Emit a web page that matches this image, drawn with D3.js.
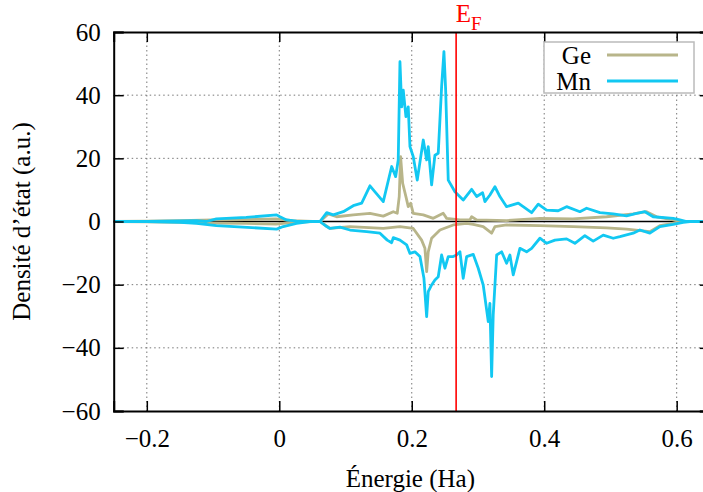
<!DOCTYPE html>
<html><head><meta charset="utf-8">
<script src="https://cdn.jsdelivr.net/npm/d3@7"></script>
<style>
html,body{margin:0;padding:0;background:#fff;overflow:hidden}
svg{display:block;font-family:"Liberation Serif","Times New Roman",serif}
</style></head><body>
<svg id="c" width="703" height="492"></svg>
<script>
// ---- data ----
const xTicks = [-0.2, 0, 0.2, 0.4, 0.6];
const xTickLabels = ["\u22120.2", "0", "0.2", "0.4", "0.6"];
const yTicks = [-60, -40, -20, 0, 20, 40, 60];
const yTickLabels = ["\u221260", "\u221240", "\u221220", "0", "20", "40", "60"];
const fermiEnergy = 0.267;
const seriesNames = ["Ge", "Mn"];

const mnUpE = [-0.25,-0.2,-0.15,-0.125,-0.11,-0.095,-0.05,-0.004,0.001,0.011,0.026,0.046,0.0614,0.0716,0.0815,0.0966,0.1117,0.1244,0.1369,0.1445,0.157,0.1697,0.1757,0.1796,0.1822,0.1848,0.1872,0.1912,0.1947,0.1973,0.2023,0.2083,0.2174,0.2225,0.2249,0.23,0.235,0.24,0.2451,0.2486,0.2512,0.2551,0.2652,0.2777,0.2904,0.298,0.307,0.3105,0.318,0.3256,0.3331,0.3432,0.3608,0.381,0.391,0.4036,0.4211,0.4338,0.4539,0.464,0.4841,0.5042,0.5244,0.5395,0.552,0.5645,0.5947,0.6048,0.615,0.65];
const mnUpV = [0,0,0.2,0.25,0,0.8,1.3,2.1,1.5,0.5,0.1,0,0,2.8,2.1,3.1,5,5.8,11.3,9.4,6.3,17.4,14.2,19.5,50.6,36.3,41.6,33.2,36.3,23.7,20.5,13.1,25.8,19.5,23.7,11.6,21,21.6,42.7,53.8,41.6,13.1,9.4,6.8,10.2,7.9,9.1,6.3,8.4,11,7.9,4.7,5.8,2.8,5.5,3.6,3.4,4.7,3.1,4.2,2.8,2.4,1.8,2.6,3.1,1.5,1,0.5,0,0];

const mnDnE = [-0.25,-0.2,-0.15,-0.125,-0.095,-0.004,0.006,0.026,0.046,0.0614,0.0716,0.0765,0.0916,0.1067,0.1319,0.152,0.163,0.1697,0.1721,0.1822,0.1923,0.1973,0.2048,0.2124,0.2184,0.2225,0.2249,0.23,0.235,0.24,0.2451,0.2501,0.2551,0.2626,0.2677,0.2728,0.2777,0.2829,0.2928,0.3004,0.3079,0.3155,0.318,0.3206,0.323,0.3282,0.3357,0.3432,0.3482,0.3532,0.3583,0.3633,0.3734,0.381,0.3935,0.4036,0.4162,0.4338,0.4463,0.4614,0.474,0.4891,0.5042,0.5143,0.5343,0.5444,0.5595,0.5746,0.5947,0.6098,0.62,0.65];
const mnDnV = [0,0,-0.3,-0.6,-1.3,-2.4,-1.6,-0.6,0,0,-1.6,-2.2,-1.8,-2.7,-3.2,-3.7,-5.9,-6.7,-5.1,-5.9,-7.4,-10.1,-9.6,-11.1,-18,-30.1,-22.2,-20.1,-18.5,-17.5,-10.6,-14.8,-11.1,-11.1,-10.6,-9.6,-18,-11.1,-10.4,-14.8,-20.1,-31.7,-25.9,-49.1,-29.6,-10.6,-9.6,-13.2,-10.6,-16.9,-12.7,-8.5,-9.6,-8.5,-5.3,-6.9,-5.9,-5.5,-6.9,-4.5,-6.2,-4.3,-5.3,-4.8,-3.7,-2.7,-3.7,-1.6,-0.9,-0.25,0,0];

const geUpE = [-0.25,-0.2,-0.15,-0.1,-0.05,-0.005,0.02,0.05,0.0614,0.074,0.0866,0.1117,0.1369,0.157,0.1721,0.1781,0.1811,0.1832,0.1863,0.1912,0.1947,0.1983,0.2023,0.2174,0.2325,0.2475,0.2527,0.2728,0.2878,0.2904,0.298,0.3432,0.3935,0.4433,0.4942,0.5343,0.5546,0.5697,0.5947,0.6048,0.65];
const geUpV = [0,0.1,0.3,0.5,0.6,0.8,0.3,0,0,2.4,1.5,2.1,2.6,1.7,3.1,2.6,7.9,20.5,12.1,7.9,4.7,5.8,2.6,2.1,1,2.6,1,0.5,0.5,1.5,0.5,0.3,1,0.8,1.5,2.4,3.1,1.5,0.5,0,0];

const geDnE = [-0.25,-0.2,-0.15,-0.1,-0.05,-0.005,0.02,0.05,0.0614,0.0765,0.1067,0.157,0.1822,0.2023,0.2149,0.2199,0.2225,0.2249,0.23,0.2426,0.2626,0.2829,0.2928,0.3079,0.3206,0.3256,0.3432,0.3935,0.4438,0.4942,0.5244,0.5595,0.5746,0.5947,0.61,0.65];
const geDnV = [0,-0.1,-0.3,-0.5,-0.6,-0.8,-0.3,0,0,-2.2,-1.6,-2.2,-1.6,-2.2,-5.9,-8.5,-15.9,-9.6,-5.3,-2.7,-1.1,-0.6,-0.9,-1.6,-3.7,-1.6,-1.1,-1.3,-1.6,-2,-2.4,-3.2,-1.3,-0.6,0,0];

// ---- chart ----
const svg = d3.select("#c");
const L = 113.7, R = 709.8, T = 32, B = 411;
const x = d3.scaleLinear().domain([-0.25, 0.65]).range([L, R]);
const y = d3.scaleLinear().domain([-60, 60]).range([B, T]);
const fs = 25;

const defs = svg.append("defs");
defs.append("clipPath").attr("id","clip").append("rect")
  .attr("x", L).attr("y", T).attr("width", R - L).attr("height", B - T);

// grid
const grid = svg.append("g").attr("stroke","#777").attr("stroke-width",1).attr("stroke-dasharray","1.5,3");
grid.selectAll(".gx").data(xTicks).join("line")
  .attr("x1", d => x(d)).attr("x2", d => x(d)).attr("y1", T).attr("y2", B);
grid.selectAll(".gy").data(yTicks.filter(d => d > -60 && d < 60)).join("line")
  .attr("y1", d => y(d)).attr("y2", d => y(d)).attr("x1", L).attr("x2", R);

// zero line
svg.append("line").attr("x1", L).attr("x2", R).attr("y1", y(0)).attr("y2", y(0))
  .attr("stroke","#000").attr("stroke-width",1.5);

// curves
const line = d3.line().x(d => x(d[0])).y(d => y(d[1]));
const zip = (a, b) => a.map((v, i) => [v, b[i]]);
const curves = svg.append("g").attr("clip-path","url(#clip)").attr("fill","none")
  .attr("stroke-linejoin","round");
const geColor = "#b8b58a", mnColor = "#12c8f2";
curves.append("path").attr("d", line(zip(geUpE, geUpV))).attr("stroke", geColor).attr("stroke-width", 2.8);
curves.append("path").attr("d", line(zip(geDnE, geDnV))).attr("stroke", geColor).attr("stroke-width", 2.8);
curves.append("path").attr("d", line(zip(mnUpE, mnUpV))).attr("stroke", mnColor).attr("stroke-width", 2.8);
curves.append("path").attr("d", line(zip(mnDnE, mnDnV))).attr("stroke", mnColor).attr("stroke-width", 2.8);

// Fermi level
svg.append("line").attr("x1", x(fermiEnergy)).attr("x2", x(fermiEnergy)).attr("y1", T).attr("y2", B)
  .attr("stroke","#ff0000").attr("stroke-width",1.6);
const ef = svg.append("text").attr("x", x(fermiEnergy) - 0.5).attr("y", 22).attr("fill","#ff0000")
  .attr("font-size", 25);
ef.append("tspan").text("E");
ef.append("tspan").attr("font-size", 19).attr("dy", 8).text("F");

// axes
const axB = d3.axisBottom(x).tickValues(xTicks).tickFormat((d,i) => xTickLabels[i]).tickSize(-10).tickPadding(18);
const axT = d3.axisTop(x).tickValues(xTicks).tickFormat("").tickSize(-10);
const axL = d3.axisLeft(y).tickValues(yTicks).tickFormat((d,i) => yTickLabels[i]).tickSize(-10).tickPadding(13);
const axR = d3.axisRight(y).tickValues(yTicks).tickFormat("").tickSize(-10);
function style(g){
  g.select(".domain").attr("stroke","#000").attr("stroke-width",2);
  g.selectAll(".tick line").attr("stroke","#000").attr("stroke-width",1.5);
  g.selectAll(".tick text").attr("font-size", fs).attr("fill","#000")
    .attr("font-family","Liberation Serif, Times New Roman, serif");
}
svg.append("g").attr("transform",`translate(0,${B})`).call(axB).call(style);
svg.append("g").attr("transform",`translate(0,${T})`).call(axT).call(style);
svg.append("g").attr("transform",`translate(${L},0)`).call(axL).call(style);
svg.append("g").attr("transform",`translate(${R},0)`).call(axR).call(style);

// axis titles
svg.append("text").attr("x", (L + 703) / 2 + 2).attr("y", 487).attr("text-anchor","middle")
  .attr("font-size", fs).text("Énergie (Ha)");
svg.append("text").attr("transform",`translate(30,${(T + B) / 2}) rotate(-90)`).attr("text-anchor","middle")
  .attr("font-size", fs).text("Densité d’état (a.u.)");

// legend
const lg = svg.append("g");
lg.append("rect").attr("x", 544).attr("y", 42).attr("width", 150).attr("height", 51)
  .attr("fill","#fff").attr("stroke","#bbb").attr("stroke-width",1.5);
const legColors = [geColor, mnColor];
seriesNames.forEach((n, i) => {
  const yy = 55 + i * 26;
  lg.append("text").attr("x", 591).attr("y", yy).attr("dy","0.35em").attr("text-anchor","end")
    .attr("font-size", fs).text(n);
  lg.append("line").attr("x1", 607).attr("x2", 678).attr("y1", yy).attr("y2", yy)
    .attr("stroke", legColors[i]).attr("stroke-width", 2.8);
});
</script></body></html>
